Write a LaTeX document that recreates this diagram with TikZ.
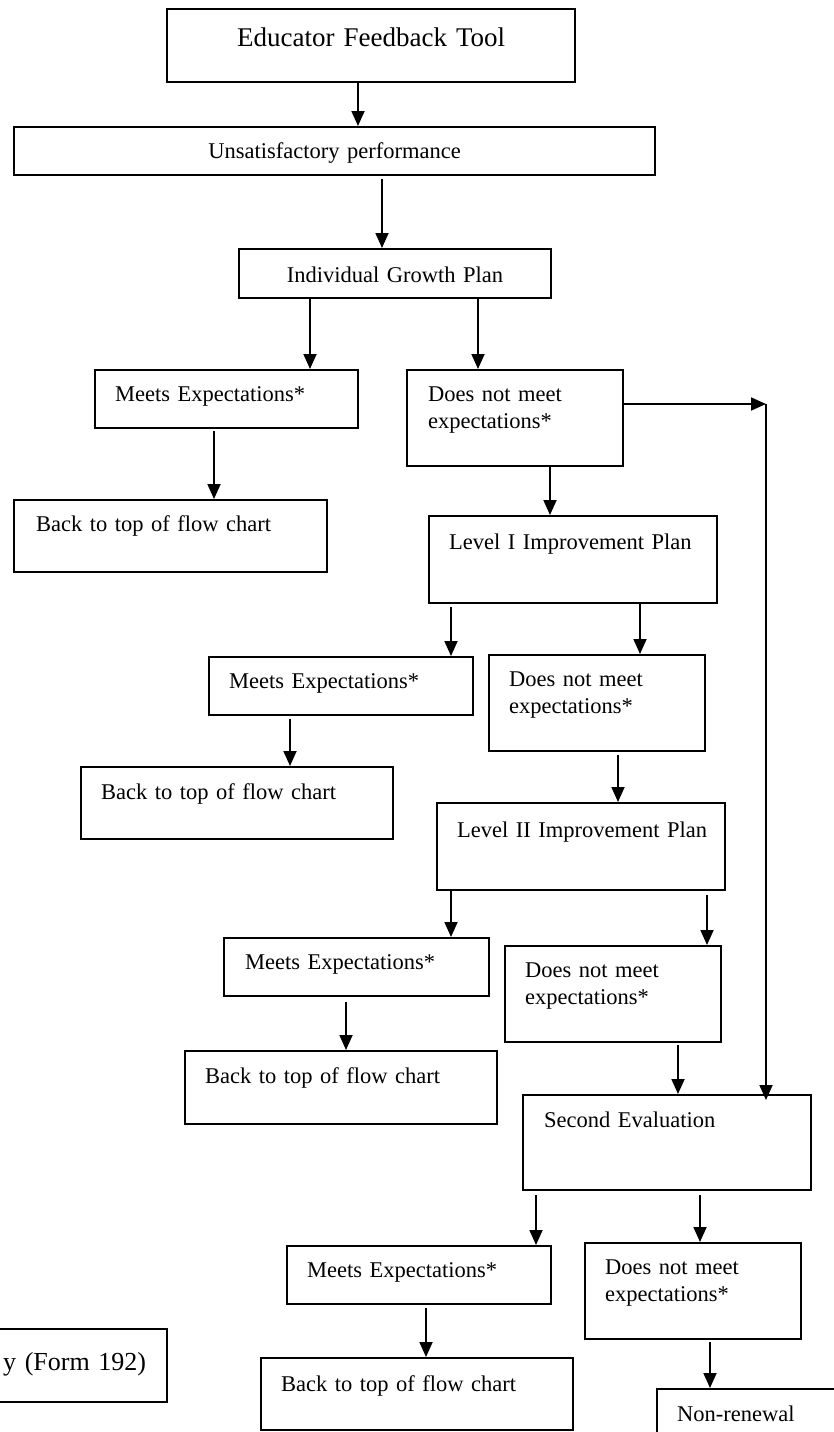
\documentclass[tikz,border=0pt]{standalone}
\usepackage{fontspec}
\setmainfont{Liberation Serif}
\usetikzlibrary{arrows.meta}
\begin{document}
\begin{tikzpicture}[x=1pt,y=-1pt,
  box/.style={draw, line width=2.2pt, rectangle, anchor=north west, inner ysep=0pt,
    align=left, font=\fontsize{22.5}{27}\selectfont},
  cbox/.style={box, align=center},
  dims/.style n args={4}{text width=#1, inner xsep=#2, text height=#3, text depth=#4},
  big/.style={font=\fontsize{27}{32}\selectfont},
  formfont/.style={font=\fontsize{26}{31}\selectfont},
  arr/.style={line width=1.8pt, -{Triangle[length=15pt,width=13pt]}},
]
\useasboundingbox (0,0) rectangle (834,1432);
\clip (0,0) rectangle (834,1432);

% boxes
\node[cbox, big, dims={388pt}{10pt}{37pt}{36pt}] (eft) at (166,8) {Educator Feedback Tool};
\node[cbox, dims={621pt}{10pt}{31pt}{17pt}] (unsat) at (13,126) {Unsatisfactory performance};
\node[cbox, dims={292pt}{10pt}{33pt}{16pt}] (igp) at (238,248) {Individual Growth Plan};

\node[box, dims={223pt}{20pt}{31pt}{27pt}] (me1) at (94,369) {Meets Expectations*};
\node[box, dims={174pt}{21pt}{31pt}{65pt}] (dn1) at (406,369) {Does not meet\\expectations*};
\node[box, dims={269pt}{22pt}{31pt}{41pt}] (bk1) at (13,499) {Back to top of flow chart};
\node[box, dims={248pt}{20pt}{33pt}{54pt}] (lv1) at (428,515) {Level I Improvement Plan};

\node[box, dims={224pt}{20pt}{31pt}{27pt}] (me2) at (208,656) {Meets Expectations*};
\node[box, dims={176pt}{20pt}{31pt}{65pt}] (dn2) at (488,654) {Does not meet\\expectations*};
\node[box, dims={272pt}{20pt}{32pt}{40pt}] (bk2) at (80,766) {Back to top of flow chart};
\node[box, dims={248pt}{20pt}{34pt}{53pt}] (lv2) at (436,802) {\mbox{Level II Improvement Plan}};

\node[box, dims={223pt}{21pt}{31pt}{27pt}] (me3) at (223,937) {Meets Expectations*};
\node[box, dims={176pt}{20pt}{31pt}{65pt}] (dn3) at (504,945) {Does not meet\\expectations*};
\node[box, dims={272pt}{20pt}{32pt}{41pt}] (bk3) at (184,1050) {Back to top of flow chart};
\node[box, dims={246pt}{21pt}{32pt}{63pt}] (se) at (522,1094) {Second Evaluation};

\node[box, dims={224pt}{20pt}{31pt}{27pt}] (me4) at (286,1245) {Meets Expectations*};
\node[box, dims={176pt}{20pt}{31pt}{65pt}] (dn4) at (584,1242) {Does not meet\\expectations*};
\node[box, dims={272pt}{20pt}{33pt}{39pt}] (bk4) at (260,1357) {Back to top of flow chart};
\node[box, dims={260pt}{20pt}{32pt}{68pt}] (nr) at (656,1388) {Non-renewal};

\node[box, formfont, align=right, dims={184pt}{21pt}{41pt}{32pt}] (form) at (-60,1328) {y (Form 192)};

% connector columns
\coordinate (c1) at (358,0);
\coordinate (c2) at (382,0);
\coordinate (c3) at (310,0);
\coordinate (c4) at (478,0);
\coordinate (corner) at (766,404);
\coordinate (c7) at (214,0);
\coordinate (c8) at (550,0);
\coordinate (c9) at (451,0);
\coordinate (c10) at (640,0);
\coordinate (c11) at (290,0);
\coordinate (c12) at (618,0);
\coordinate (c14) at (707,0);
\coordinate (c15) at (346,0);
\coordinate (c16) at (678,0);
\coordinate (c17) at (536,0);
\coordinate (c18) at (700,0);
\coordinate (c19) at (426,0);
\coordinate (c20) at (710,0);

% connectors
\draw[arr] (eft.south -| c1) -- (unsat.north -| c1);
\draw[arr, shorten <=3pt] (unsat.south -| c2) -- (igp.north -| c2);
\draw[arr] (igp.south -| c3) -- (me1.north -| c3);
\draw[arr] (igp.south -| c4) -- (dn1.north -| c4);
\draw[arr] (dn1.east |- corner) -- (corner);
\draw[arr, shorten >=-6pt] (corner) -- (se.north -| corner);
\draw[arr, shorten <=2pt] (me1.south -| c7) -- (bk1.north -| c7);
\draw[arr] (dn1.south -| c8) -- (lv1.north -| c8);
\draw[arr, shorten <=3pt] (lv1.south -| c9) -- (me2.north -| c9);
\draw[arr] (lv1.south -| c10) -- (dn2.north -| c10);
\draw[arr, shorten <=3pt] (me2.south -| c11) -- (bk2.north -| c11);
\draw[arr, shorten <=3pt] (dn2.south -| c12) -- (lv2.north -| c12);
\draw[arr] (lv2.south -| c9) -- (me3.north -| c9);
\draw[arr, shorten <=4pt] (lv2.south -| c14) -- (dn3.north -| c14);
\draw[arr, shorten <=5pt] (me3.south -| c15) -- (bk3.north -| c15);
\draw[arr, shorten <=2pt] (dn3.south -| c16) -- (se.north -| c16);
\draw[arr, shorten <=4pt] (se.south -| c17) -- (me4.north -| c17);
\draw[arr, shorten <=4pt] (se.south -| c18) -- (dn4.north -| c18);
\draw[arr, shorten <=3pt] (me4.south -| c19) -- (bk4.north -| c19);
\draw[arr, shorten <=2pt] (dn4.south -| c20) -- (nr.north -| c20);
\end{tikzpicture}
\end{document}
